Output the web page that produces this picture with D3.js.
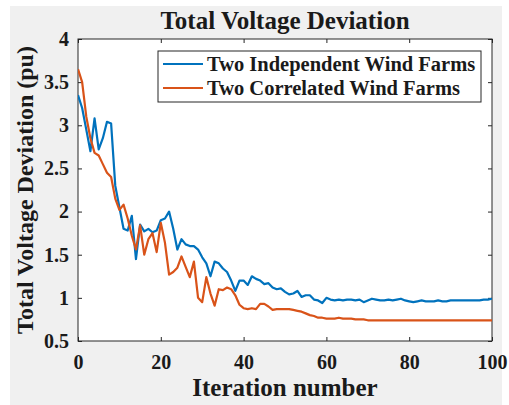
<!DOCTYPE html>
<html><head><meta charset="utf-8">
<script src="https://cdn.jsdelivr.net/npm/d3@7"></script>
<style>body{margin:0;background:#fff}svg{display:block}</style>
</head><body>
<script>
const iterations = d3.range(0, 101);
const independent = [3.35,3.2,2.95,2.7,3.08,2.72,2.85,3.04,3.02,2.3,2.05,1.8,1.78,1.95,1.45,1.85,1.77,1.8,1.76,1.78,1.9,1.92,2.0,1.8,1.56,1.68,1.62,1.6,1.6,1.56,1.47,1.4,1.25,1.42,1.4,1.34,1.3,1.2,1.08,1.2,1.2,1.15,1.25,1.22,1.2,1.16,1.17,1.12,1.1,1.11,1.07,1.04,1.05,1.08,1.01,1.03,1.03,0.98,0.97,0.94,1.0,0.98,0.97,0.98,0.97,0.98,0.98,0.97,0.98,0.95,0.97,0.99,0.98,0.97,0.97,0.98,0.97,0.98,0.99,0.97,0.96,0.95,0.96,0.97,0.96,0.96,0.96,0.97,0.96,0.96,0.97,0.97,0.97,0.97,0.97,0.97,0.97,0.97,0.98,0.98,0.99];
const correlated = [3.65,3.5,3.1,2.85,2.68,2.65,2.55,2.45,2.4,2.15,2.02,2.08,1.92,1.72,1.56,1.84,1.5,1.68,1.75,1.53,1.87,1.64,1.27,1.3,1.35,1.48,1.36,1.24,1.42,1.0,0.95,1.24,1.05,0.91,1.1,1.09,1.12,1.1,1.03,0.92,0.88,0.87,0.88,0.87,0.93,0.93,0.9,0.86,0.87,0.87,0.87,0.87,0.86,0.85,0.84,0.82,0.8,0.79,0.77,0.77,0.76,0.76,0.76,0.77,0.76,0.76,0.76,0.75,0.75,0.75,0.74,0.74,0.74,0.74,0.74,0.74,0.74,0.74,0.74,0.74,0.74,0.74,0.74,0.74,0.74,0.74,0.74,0.74,0.74,0.74,0.74,0.74,0.74,0.74,0.74,0.74,0.74,0.74,0.74,0.74,0.74];
const seriesNames = ["Two Independent Wind Farms", "Two Correlated Wind Farms"];
const seriesColors = ["#0072BD", "#D95319"];
const xTicks = [0,20,40,60,80,100];
const yTicks = [0.5,1,1.5,2,2.5,3,3.5,4];
const titleText = "Total Voltage Deviation";
const xLabel = "Iteration number";
const yLabel = "Total Voltage Deviation (pu)";

const W = 509, H = 405;
const L = 78, R = 492, T = 39, B = 341;
const font = "'Liberation Serif','Times New Roman',serif";

const svg = d3.select("body").append("svg").attr("width", W).attr("height", H);
svg.append("rect").attr("x", 10).attr("y", 6).attr("width", 492).attr("height", H - 6).attr("fill", "#f0f0f0");
svg.append("rect").attr("x", L).attr("y", T).attr("width", R - L).attr("height", B - T).attr("fill", "#fff");

const x = d3.scaleLinear().domain([0, 100]).range([L, R]);
const y = d3.scaleLinear().domain([0.5, 4]).range([B, T]);

const axisColor = "#262626";
function styleAxis(g, labels) {
  g.attr("font-family", font);
  g.select(".domain").remove();
  g.selectAll(".tick line").attr("stroke", axisColor).attr("stroke-width", 1);
  g.selectAll(".tick text").style("font-family", font).attr("font-weight", "bold")
    .attr("font-size", 20).attr("fill", "#1a1a1a");
  if (!labels) g.selectAll(".tick text").remove();
}
svg.append("g").attr("transform", `translate(0,${B})`)
  .call(d3.axisBottom(x).tickValues(xTicks).tickSize(-4).tickPadding(14).tickFormat(d3.format("d")))
  .call(g => styleAxis(g, true));
svg.append("g").attr("transform", `translate(0,${T})`)
  .call(d3.axisTop(x).tickValues(xTicks).tickSize(-4))
  .call(g => styleAxis(g, false));
svg.append("g").attr("transform", `translate(${L},0)`)
  .call(d3.axisLeft(y).tickValues(yTicks).tickSize(-4).tickPadding(9).tickFormat(d => d))
  .call(g => styleAxis(g, true));
svg.append("g").attr("transform", `translate(${R},0)`)
  .call(d3.axisRight(y).tickValues(yTicks).tickSize(-4))
  .call(g => styleAxis(g, false));

svg.append("rect").attr("x", L).attr("y", T).attr("width", R - L).attr("height", B - T)
  .attr("fill", "none").attr("stroke", axisColor).attr("stroke-width", 1);

const line = d3.line().x((d, i) => x(iterations[i])).y(d => y(d));
svg.append("clipPath").attr("id", "clip").append("rect")
  .attr("x", L).attr("y", T).attr("width", R - L).attr("height", B - T);
[independent, correlated].forEach((s, k) => {
  svg.append("path").datum(s).attr("d", line).attr("fill", "none")
    .attr("stroke", seriesColors[k]).attr("stroke-width", 2.2).attr("stroke-linejoin", "round")
    .attr("clip-path", "url(#clip)");
});

// legend
const lg = svg.append("g");
lg.append("rect").attr("x", 158).attr("y", 51).attr("width", 323).attr("height", 51)
  .attr("fill", "#fff").attr("stroke", axisColor).attr("stroke-width", 1);
seriesNames.forEach((n, k) => {
  const yy = 64 + k * 24;
  lg.append("line").attr("x1", 163).attr("x2", 203).attr("y1", yy).attr("y2", yy)
    .attr("stroke", seriesColors[k]).attr("stroke-width", 2.2);
  lg.append("text").attr("x", 207).attr("y", yy + 6.5).text(n)
    .style("font-family", font).attr("font-weight", "bold").attr("font-size", 20.5).attr("fill", "#1a1a1a");
});

svg.append("text").attr("x", (L + R) / 2).attr("y", 29).attr("text-anchor", "middle")
  .style("font-family", font).attr("font-weight", "bold").attr("font-size", 25).attr("fill", "#1a1a1a").text(titleText);
svg.append("text").attr("x", (L + R) / 2).attr("y", 396).attr("text-anchor", "middle")
  .style("font-family", font).attr("font-weight", "bold").attr("font-size", 25).attr("fill", "#1a1a1a").text(xLabel);
svg.append("text").attr("transform", `translate(33,${(T + B) / 2}) rotate(-90)`).attr("text-anchor", "middle")
  .style("font-family", font).attr("font-weight", "bold").attr("font-size", 24).attr("fill", "#1a1a1a").text(yLabel);
</script>
</body></html>
